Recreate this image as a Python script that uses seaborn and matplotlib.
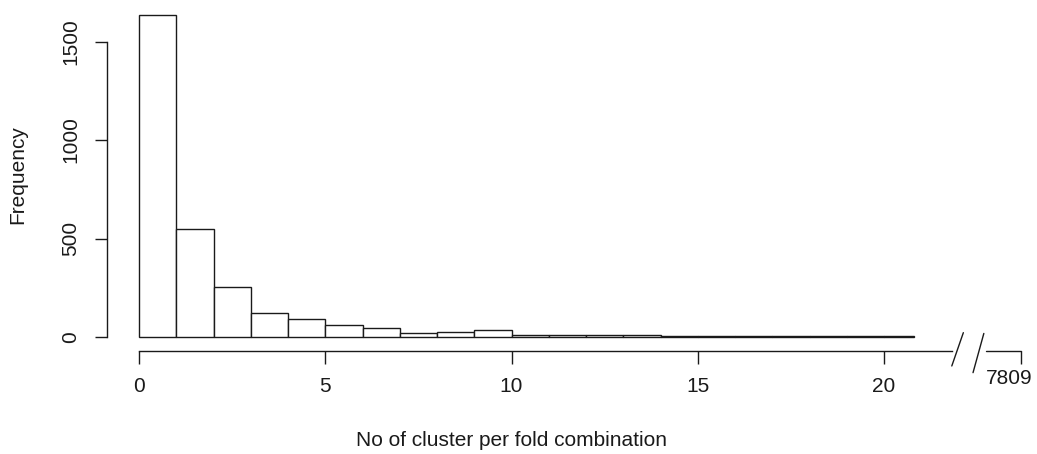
import numpy as np
import pandas as pd
import seaborn as sns
import matplotlib
matplotlib.use("Agg")
import matplotlib.pyplot as plt

# histogram counts (bins of width 1, last bin ends at 20.8)
bin_edges = [0, 1, 2, 3, 4, 5, 6, 7, 8, 9, 10, 11, 12, 13, 14, 15, 16, 17, 18, 19, 20, 20.8]
counts = [1633, 550, 252, 122, 90, 59, 47, 19, 25, 34, 10, 10, 10, 10, 5, 5, 5, 5, 5, 5, 5]
xtick_vals = [0, 5, 10, 15, 20]
break_label = "7809"

# layout: the axis is broken after 20, max value 7809 sits at a compressed position
axis_end = 21.82
max_pos = 23.68
seg_start = 22.75

sns.set_theme(style="white")
plt.rcParams["font.family"] = ["Liberation Sans", "DejaVu Sans"]

W, H = 1037, 454
fig = plt.figure(figsize=(W / 100, H / 100), dpi=100)
# pixel geometry of the plot box
px_left, px_right, px_top, px_bottom = 107, 1030, 5, 351
ax = fig.add_axes([px_left / W, 1 - px_bottom / H,
                   (px_right - px_left) / W, (px_bottom - px_top) / H])

mids = [(a + b) / 2 for a, b in zip(bin_edges[:-1], bin_edges[1:])]
df = pd.DataFrame({"x": mids, "w": counts})
sns.histplot(data=df, x="x", weights="w", bins=bin_edges, ax=ax,
             color="white", edgecolor="#1a1a1a", linewidth=1.0, alpha=1)

# data -> pixel scale: 37.25 px per x-unit, 0.197 px per count
ppx = 37.25
ppy = 0.197
ax.set_xlim(-(139 - px_left) / ppx, (px_right - 139) / ppx)
ax.set_ylim(-(px_bottom - 337) / ppy, (337 - px_top) / ppy)

for s in ["top", "right"]:
    ax.spines[s].set_visible(False)
for s in ["left", "bottom"]:
    ax.spines[s].set_color("#1a1a1a")
    ax.spines[s].set_linewidth(1.0)
ax.spines["left"].set_bounds(0, 1500)
ax.spines["bottom"].set_bounds(0, axis_end)

fs = 15
ax.set_yticks([0, 500, 1000, 1500])
ax.set_xticks(xtick_vals + [max_pos])
ax.set_xticklabels([str(v) for v in xtick_vals] + [""])
ax.tick_params(axis="both", direction="out", length=9, width=1.0,
               color="#1a1a1a", labelsize=fs, labelcolor="#1a1a1a",
               left=True, bottom=True, pad=10)
for lab in ax.get_yticklabels():
    lab.set_rotation(90)
    lab.set_va("center")

ax.set_xlabel("")
ax.set_ylabel("")

# second axis segment after the break, plus the break marks
ax.plot([seg_start, max_pos], [-71.07, -71.07], color="#1a1a1a", lw=1.0, clip_on=False)
ax.plot([21.82, 22.13], [-147, 22], color="#1a1a1a", lw=1.0, clip_on=False)
ax.plot([22.39, 22.68], [-181, 18], color="#1a1a1a", lw=1.0, clip_on=False)
ax.text(23.36, -160, break_label, ha="center", va="top",
        fontsize=fs, color="#1a1a1a", clip_on=False)

fig.text(511 / W, 1 - 441 / H, "No of cluster per fold combination",
         ha="center", va="center", fontsize=fs, color="#1a1a1a")
fig.text(18 / W, 1 - 175 / H, "Frequency", rotation=90,
         ha="center", va="center", fontsize=fs, color="#1a1a1a")

fig.savefig("out.png", dpi=100)
